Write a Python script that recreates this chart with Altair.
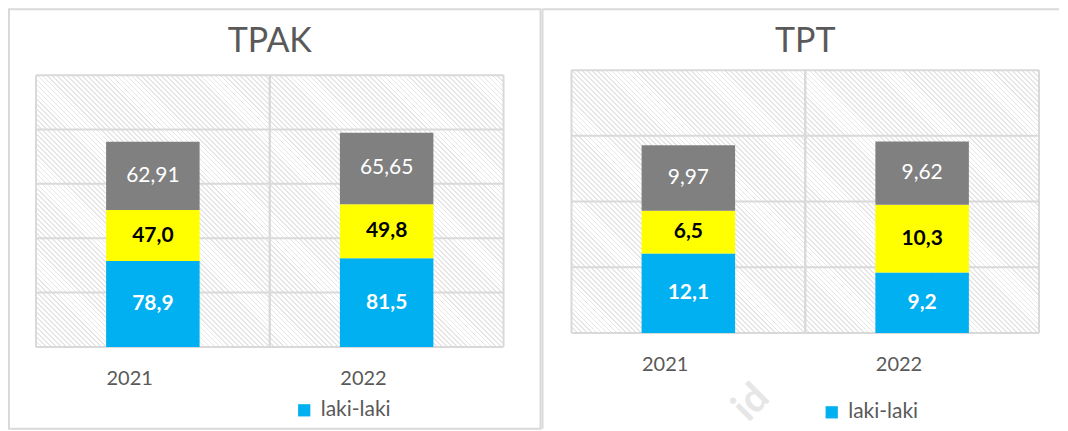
import altair as alt
import pandas as pd

# ---- data ----
years = ["2021", "2022"]
series = ["laki-laki", "perempuan", "total"]
series_colors = ["#00B0F0", "#FFFF00", "#808080"]
decimals = [1, 1, 2]

tpak_laki = [78.9, 81.5]
tpak_perempuan = [47.0, 49.8]
tpak_total = [62.91, 65.65]

tpt_laki = [12.1, 9.2]
tpt_perempuan = [6.5, 10.3]
tpt_total = [9.97, 9.62]

tpak_grid = [0, 50, 100, 150, 200, 250]
tpt_grid = [0, 10, 20, 30, 40]

FONT = "Lato"
GRID = "#d9d9d9"
TEXT = "#595959"
BORDER = "#d9d9d9"
PLOT_W = 468


def make_frame(values):
    rows = []
    for s_i, (s, arr) in enumerate(zip(series, values)):
        for yr, v in zip(years, arr):
            rows.append({
                "year": yr,
                "series": s,
                "order": s_i,
                "value": v,
                "label": f"{v:.{decimals[s_i]}f}".replace(".", ","),
            })
    return pd.DataFrame(rows)


def hatch_gradient(h, period=3.5, lw=1.2, line="#e6e6e6", bg="#ffffff"):
    w = PLOT_W
    span = (w + h) / 2 ** 0.5
    a = (w + h) * w / (w * w + h * h)
    b = a * h / w
    stops = []
    k = 0
    while k * period < span:
        s0 = round(k * period / span, 6)
        s1 = round(min((k * period + lw) / span, 1.0), 6)
        s2 = round(min((k + 1) * period / span, 1.0), 6)
        stops += [alt.GradientStop(offset=s0, color=line),
                  alt.GradientStop(offset=s1, color=line),
                  alt.GradientStop(offset=s1, color=bg),
                  alt.GradientStop(offset=s2, color=bg)]
        k += 1
    return alt.LinearGradient(gradient="linear", stops=stops,
                              x1=0, y1=1, x2=round(a, 6), y2=round(1 - b, 6))


def panel(title, df, grid_vals, height, y_range, visible_h, label_pad,
          legend_x, legend_y, deco_layers):
    x_enc = alt.X(
        "year:N", title=None,
        scale=alt.Scale(paddingInner=0, paddingOuter=0),
        axis=alt.Axis(grid=False, domain=False, ticks=False, tickSize=0,
                      labelAngle=0, labelFont=FONT, labelFontSize=20,
                      labelColor=TEXT, labelPadding=label_pad,
                      labelBaseline="middle"),
    )
    y_scale = alt.Scale(domain=[grid_vals[0], grid_vals[-1]], nice=False,
                        range=y_range)
    top_val = grid_vals[-1]
    bottom_val = grid_vals[0]

    one = pd.DataFrame({"k": [0]})
    background = alt.Chart(one).mark_rect(fill=hatch_gradient(visible_h)).encode(
        x=alt.value(0), x2=alt.value("width"),
        y=alt.Y(datum=top_val, type="quantitative", scale=y_scale, axis=None),
        y2=alt.datum(bottom_val),
    )
    hgrid = alt.Chart(pd.DataFrame({"v": grid_vals})).mark_rule(
        color=GRID, strokeWidth=2
    ).encode(y=alt.Y("v:Q", scale=y_scale, axis=None))
    year_df = pd.DataFrame({"year": years})
    vgrid_start = alt.Chart(year_df).mark_rule(color=GRID, strokeWidth=2).encode(
        x=alt.X("year:N", bandPosition=0, title=None),
        y=alt.Y(datum=top_val, type="quantitative", scale=y_scale, axis=None),
        y2=alt.datum(bottom_val),
    )
    vgrid_end = alt.Chart(year_df).mark_rule(color=GRID, strokeWidth=2).encode(
        x=alt.X("year:N", bandPosition=1, title=None),
        y=alt.Y(datum=top_val, type="quantitative", scale=y_scale, axis=None),
        y2=alt.datum(bottom_val),
    )
    title_mark = alt.Chart(pd.DataFrame({"t": [title]})).mark_text(
        font=FONT, fontSize=34, color=TEXT, baseline="alphabetic", align="center"
    ).encode(x=alt.value(PLOT_W / 2), y=alt.value(-23), text="t:N")

    base = alt.Chart(df)
    bars = base.mark_bar(width=alt.RelativeBandSize(0.4)).encode(
        x=x_enc,
        y=alt.Y("value:Q", stack="zero", scale=y_scale, axis=None),
        color=alt.Color(
            "series:N",
            scale=alt.Scale(domain=series, range=series_colors),
            legend=alt.Legend(values=["laki-laki"], orient="none",
                              legendX=legend_x, legendY=legend_y, title=None,
                              symbolType="square", symbolSize=150,
                              symbolStrokeWidth=0, labelFont=FONT,
                              labelFontSize=21, labelColor=TEXT, padding=0,
                              labelOffset=6),
        ),
        order=alt.Order("order:Q"),
    )

    stacked = base.transform_stack(
        stack="value", groupby=["year"],
        sort=[alt.SortField("order", "ascending")], as_=["y0", "y1"],
    ).transform_calculate(mid="(datum.y0 + datum.y1) / 2")

    bold_labels = stacked.transform_filter("datum.series != 'total'").mark_text(
        font=FONT, fontSize=21, fontWeight="bold", baseline="middle"
    ).encode(
        x=x_enc,
        y=alt.Y("mid:Q", scale=y_scale, axis=None),
        text="label:N",
        color=alt.condition("datum.series == 'perempuan'", alt.value("black"),
                            alt.value("white")),
    )
    total_labels = stacked.transform_filter("datum.series == 'total'").mark_text(
        font=FONT, fontSize=21, fontWeight="normal", baseline="middle", color="white"
    ).encode(
        x=x_enc,
        y=alt.Y("mid:Q", scale=y_scale, axis=None),
        text="label:N",
    )

    return alt.layer(*deco_layers, background, hgrid, vgrid_start, vgrid_end,
                     title_mark, bars, bold_labels, total_labels).properties(
        width=PLOT_W, height=height,
    )


one = pd.DataFrame({"k": [0]})

left_deco = [
    alt.Chart(one).mark_rect(fillOpacity=0, stroke=BORDER, strokeWidth=2).encode(
        x=alt.value(-27), x2=alt.value(505), y=alt.value(-66), y2=alt.value(354)
    )
]
right_deco = [
    alt.Chart(one).mark_rule(stroke=BORDER, strokeWidth=2).encode(
        x=alt.value(-29), x2=alt.value(488), y=alt.value(-66)
    ),
    alt.Chart(one).mark_rule(stroke=BORDER, strokeWidth=2).encode(
        x=alt.value(-29), y=alt.value(-66), y2=alt.value(354)
    ),
    alt.Chart(pd.DataFrame({"t": ["id"]})).mark_text(
        font=FONT, fontSize=40, fontWeight="bold", color="#e6e6e6", angle=315
    ).encode(x=alt.value(180), y=alt.value(328), text="t:N"),
]

tpak = panel("TPAK", make_frame([tpak_laki, tpak_perempuan, tpak_total]),
             tpak_grid, 272, [272, 0], 272, 32, 258, 325, left_deco)
tpt = panel("TPT", make_frame([tpt_laki, tpt_perempuan, tpt_total]),
            tpt_grid, 258, [258, -5], 263, 32, 250, 327, right_deco)

chart = alt.hconcat(tpak, tpt, spacing=0, padding=0).resolve_scale(
    x="independent", y="independent", color="independent"
).resolve_legend(color="independent").configure_view(strokeWidth=0)

chart.save("out.html", embed_options={"renderer": "svg", "actions": False})
